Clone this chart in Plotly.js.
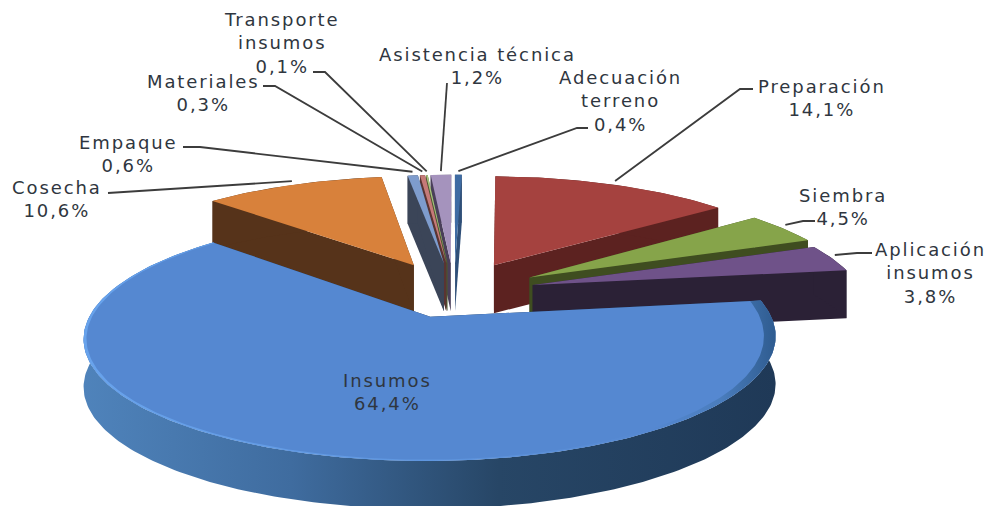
<!DOCTYPE html>
<html>
<head>
<meta charset="utf-8">
<script src="https://cdn.plot.ly/plotly-3.0.1.min.js"></script>
<style>
html,body{margin:0;padding:0;background:#fff}
#chart{width:991px;height:506px}
.annotation-text{letter-spacing:1.9px}
</style>
</head>
<body>
<div id="chart"></div>
<script>
// Data, clockwise from 12 o'clock
const categories = ["Adecuación<br>terreno","Preparación","Siembra","Aplicación<br>insumos","Insumos","Cosecha","Empaque","Materiales","Transporte<br>insumos","Asistencia técnica"];
const values = [0.4,14.1,4.5,3.8,64.4,10.6,0.6,0.3,0.1,1.2];

// Styling
const topColors  = ["#3f6ca3","#a5423f","#86a44a","#6f5289","#5588d1","#d8813b","#7e9ccd","#c57a78","#a9c47e","#a593bd"];
const wallColors = ["#2f4f78","#5c2220","#3f4d20","#2b2136","#203a58","#56331a","#3b4558","#5a3432","#4a5a30","#4a3f5a"];
const explode    = [0.27,0.28,0.27,0.25,0.225,0.28,0.27,0.27,0.27,0.27];
const drawOrder  = [0,9,8,7,6,1,5,2,3,4];

// Label placement (centre of the text block) and leader-line waypoints
const labelX = [620,822,843,930,387,57,128,203,282,477];
const labelY = [101,98,207,273,392,199,154,93,43,66];
const leaderX = [[577,588],[740,753],[803,815],[857,872],[],[108],[200,183],[275,263],[325,313],[447]];
const leaderY = [[128,128],[89,89],[221,221],[253,253],[],[193],[147,147],[86,86],[72,72],[83]];

// Projection of the tilted disc onto the page
const ox=454, oy=292, R=329, B=111.5, k=0.164, H=48;
const sx=(X,Y)=>ox+R*X/(1-k*Y);
const sy=(Y)=>oy+B*Y/(1-k*Y);
const total=values.reduce((a,b)=>a+b,0);

let cum=0;
const slices=values.map((v,i)=>{
  const a0=cum/total*2*Math.PI; cum+=v; const a1=cum/total*2*Math.PI; const m=(a0+a1)/2;
  return {i,a0,a1,m,cX:explode[i]*Math.sin(m),cY:-explode[i]*Math.cos(m)};
});
function rim(s,a,r=1){const X=s.cX+r*Math.sin(a),Y=s.cY-r*Math.cos(a);return [sx(X,Y),sy(Y)];}
function arc(s,a0,a1,rf){
  const n=Math.max(2,Math.ceil(Math.abs(a1-a0)/(Math.PI/180)));const p=[];
  for(let j=0;j<=n;j++){const a=a0+(a1-a0)*j/n;p.push(rim(s,a,rf?rf(a):1));}
  return p;
}
function poly(pts,color,extra){
  return Object.assign({type:"scatter",mode:"lines",x:pts.map(p=>p[0]),y:pts.map(p=>p[1]),
    fill:"toself",fillcolor:color,line:{width:0,color:color},hoverinfo:"skip",showlegend:false},extra||{});
}
const traces=[];
drawOrder.forEach(i=>{
  const s=slices[i];
  const apex=[sx(s.cX,s.cY),sy(s.cY)];
  const down=p=>[p[0],p[1]+H];
  const pA=rim(s,s.a0),pB=rim(s,s.a1);
  traces.push(poly([apex,pA,down(pA),down(apex),apex],wallColors[i]));
  traces.push(poly([apex,pB,down(pB),down(apex),apex],wallColors[i]));
  const outer=arc(s,s.a0,s.a1);
  const wall=outer.concat(outer.slice().reverse().map(down));
  wall.push(outer[0]);
  if(i===4){
    traces.push(poly(wall,wallColors[i],{fillgradient:{type:"horizontal",
      colorscale:[[0,"#4f83bb"],[0.3,"#3f6c9f"],[0.6,"#274666"],[1,"#1f3957"]]}}));
  }else{
    traces.push(poly(wall,wallColors[i]));
  }
  const top=[apex].concat(outer);top.push(apex);
  traces.push(poly(top,topColors[i]));
  if(i===4){
    const inner=arc(s,s.a0,s.a1,a=>0.992-0.026*Math.pow(Math.max(0,Math.sin(a)),3)).reverse();
    const band=outer.concat(inner);band.push(outer[0]);
    traces.push(poly(band,topColors[i],{fillgradient:{type:"horizontal",
      colorscale:[[0,"#68a3ec"],[0.5,"#5f96df"],[0.82,"#5588d1"],[0.92,"#4a7dbd"],[1,"#2f5c90"]]}}));
  }
});
// Leader lines
slices.forEach(s=>{
  const i=s.i; if(!leaderX[i].length)return;
  const p=rim(s,s.m,1.01);
  traces.push({type:"scatter",mode:"lines",x:[p[0]].concat(leaderX[i]),y:[p[1]-3].concat(leaderY[i]),
    line:{color:"#3c3c3c",width:1.8},hoverinfo:"skip",showlegend:false});
});
const fmt=v=>v.toFixed(1).replace(".",",")+"%";
const annotations=categories.map((c,i)=>({
  x:labelX[i],y:labelY[i],xref:"x",yref:"y",showarrow:false,xanchor:"center",yanchor:"middle",align:"center",
  text:c+"<br>"+fmt(values[i]),
  font:{family:"DejaVu Sans, sans-serif",size:18,color:"#2f3640"}
}));
const layout={
  width:991,height:506,margin:{l:0,r:0,t:0,b:0},paper_bgcolor:"#fff",plot_bgcolor:"#fff",
  showlegend:false,
  xaxis:{range:[0,991],visible:false,fixedrange:true},
  yaxis:{range:[506,0],visible:false,fixedrange:true},
  annotations
};
Plotly.newPlot("chart",traces,layout,{displayModeBar:false,staticPlot:true});
</script>
</body>
</html>
